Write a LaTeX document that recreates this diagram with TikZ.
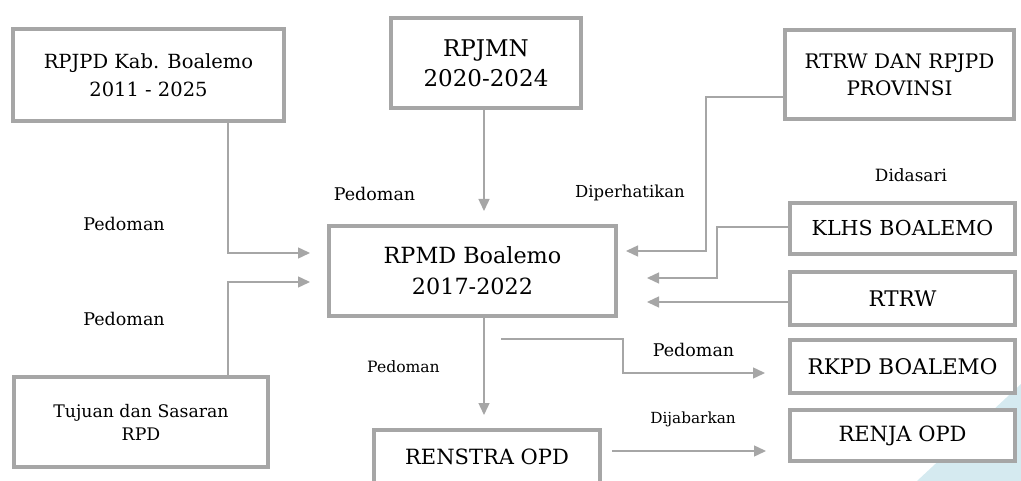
\documentclass[tikz,border=0pt]{standalone}
\usepackage{fontspec}
\setmainfont{DejaVu Serif}
\usetikzlibrary{arrows.meta}
\definecolor{boxgray}{HTML}{A6A6A6}
\definecolor{linegray}{HTML}{A6A6A6}
\definecolor{bgblue}{HTML}{D5EAF0}
\begin{document}
\begin{tikzpicture}[x=1pt,y=-1pt,
  box/.style={draw=boxgray, line width=3.5pt, fill=white, inner sep=0pt, align=center, text=black},
  conn/.style={draw=linegray, line width=1.4pt, -{Triangle[length=12pt,width=11pt]}},
  lbl/.style={anchor=base, inner sep=0pt, text=black}]
\clip (0,0) rectangle (1021,481);
\fill[bgblue] (1021,384) -- (917,481) -- (1021,481) -- cycle;

% boxes
\node[box, minimum width=271pt, minimum height=92pt, font=\fontsize{19.5}{28}\selectfont] (rpjpd) at (148.5,75) {RPJPD Kab. Boalemo\\2011 - 2025};
\node[box, minimum width=190pt, minimum height=90pt, font=\fontsize{23}{30}\selectfont] (rpjmn) at (486,63) {RPJMN\\2020-2024};
\node[box, minimum width=229pt, minimum height=89pt, font=\fontsize{20}{27}\selectfont] (rtrwp) at (899.5,74.5) {RTRW DAN RPJPD\\PROVINSI};
\node[box, minimum width=225pt, minimum height=51pt, font=\fontsize{20.6}{24}\selectfont] (klhs) at (902.5,228.5) {KLHS BOALEMO};
\node[box, minimum width=225pt, minimum height=53pt, font=\fontsize{21.5}{24}\selectfont] (rtrw) at (902.5,298.5) {RTRW};
\node[box, minimum width=225pt, minimum height=53pt, font=\fontsize{21.5}{24}\selectfont] (rkpd) at (902.5,366.5) {RKPD BOALEMO};
\node[box, minimum width=225pt, minimum height=51pt, font=\fontsize{21}{24}\selectfont] (renja) at (902.5,435.5) {RENJA OPD};
\node[box, minimum width=287pt, minimum height=90pt, font=\fontsize{22.3}{31}\selectfont] (rpmd) at (472.5,271) {RPMD Boalemo\\2017-2022};
\node[box, minimum width=226pt, minimum height=60pt, font=\fontsize{21}{24}\selectfont, text depth=7pt] (renstra) at (487,460) {RENSTRA OPD};
\node[box, minimum width=254pt, minimum height=90pt, font=\fontsize{17.3}{23}\selectfont] (tuj) at (141,422) {Tujuan dan Sasaran\\RPD};

% free ends
\coordinate (e1) at (310,253);
\coordinate (e2) at (310,282);
\coordinate (e3) at (484,211);
\coordinate (k4) at (706,97);
\coordinate (e4) at (626,251);
\coordinate (k5) at (717,227);
\coordinate (e5) at (647,278);
\coordinate (e6) at (647,302);
\coordinate (s7) at (501,339);
\coordinate (k7) at (623,373);
\coordinate (e7) at (765,373);
\coordinate (s8) at (612,451);
\coordinate (e8) at (766,451);
\coordinate (e9) at (484,415);

% connectors
\draw[conn] ([xshift=79.5pt]rpjpd.south) |- (e1);
\draw[conn] ([xshift=87pt]tuj.north) |- (e2);
\draw[conn] (rpjmn.south -| e3) -- (e3);
\draw[conn] (rtrwp.west |- k4) -- (k4) |- (e4);
\draw[conn] (klhs.west |- k5) -- (k5) |- (e5);
\draw[conn] (rtrw.west |- e6) -- (e6);
\draw[conn] (s7) -| (k7) -- (e7);
\draw[conn] (s8) -- (e8);
\draw[conn] (rpmd.south -| e9) -- (e9);

% labels
\node[lbl, font=\fontsize{17.5}{20}\selectfont] (l1) at (124,231) {Pedoman};
\node[lbl, font=\fontsize{17.5}{20}\selectfont] (l2) at (124,326) {Pedoman};
\node[lbl, font=\fontsize{17.5}{20}\selectfont] (l3) at (374.5,201) {Pedoman};
\node[lbl, font=\fontsize{16.5}{20}\selectfont] (l4) at (630,198) {Diperhatikan};
\node[lbl, font=\fontsize{16.9}{20}\selectfont] (l5) at (911,182) {Didasari};
\node[lbl, font=\fontsize{15.6}{20}\selectfont] (l6) at (403.5,372) {Pedoman};
\node[lbl, font=\fontsize{17.5}{20}\selectfont] (l7) at (693.5,356) {Pedoman};
\node[lbl, font=\fontsize{15.3}{20}\selectfont] (l8) at (693,423) {Dijabarkan};
\end{tikzpicture}
\end{document}
